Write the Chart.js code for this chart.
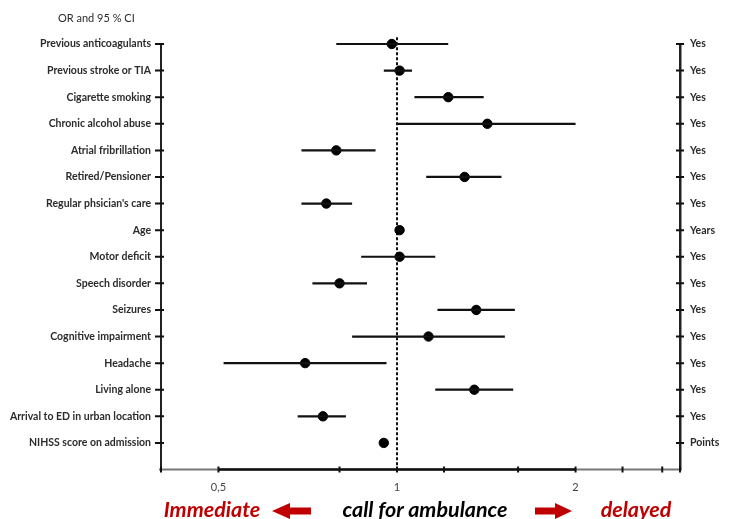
<!DOCTYPE html>
<html>
<head>
<meta charset="utf-8">
<script src="https://cdn.jsdelivr.net/npm/chart.js@4/dist/chart.umd.min.js"></script>
<style>
  body { margin: 0; background: #fff; }
  #wrap { position: relative; width: 732px; height: 519px; font-family: Lato, sans-serif; }
  #forest { position: absolute; left: 0; top: 0; }
  .title { position: absolute; left: 58px; top: 11px; font-size: 11px; color: #2b2b2b; }
  .foot { position: absolute; top: 496px; font-size: 21.5px; font-weight: bold; font-style: italic; white-space: nowrap; transform: translateX(-50%); }
  .red { color: #c00000; }
  .arrow { position: absolute; top: 503px; }
</style>
</head>
<body>
<div id="wrap">
  <canvas id="forest" width="732" height="519"></canvas>
  <div class="title">OR and 95 % CI</div>
  <div class="foot red" style="left:212px">Immediate</div>
  <svg class="arrow" style="left:272px" width="40" height="16" viewBox="0 0 40 16">
    <polygon points="0,8 18,0 18,4.5 39,4.5 39,11.5 18,11.5 18,16" fill="#c00000"/>
  </svg>
  <div class="foot" style="left:425px; color:#000">call for ambulance</div>
  <svg class="arrow" style="left:535px" width="38" height="16" viewBox="0 0 38 16">
    <polygon points="0,4.5 20,4.5 20,0 37,8 20,16 20,11.5 0,11.5" fill="#c00000"/>
  </svg>
  <div class="foot red" style="left:636px">delayed</div>
</div>
<script>
// Forest plot data (odds ratios with 95% CI)
const categories = [
    'Previous anticoagulants', 'Previous stroke or TIA', 'Cigarette smoking',
    'Chronic alcohol abuse', 'Atrial fribrillation', 'Retired/Pensioner',
    "Regular phsician's care", 'Age', 'Motor deficit', 'Speech disorder',
    'Seizures', 'Cognitive impairment', 'Headache', 'Living alone',
    'Arrival to ED in urban location', 'NIHSS score on admission'
];
const units = ['Yes', 'Yes', 'Yes', 'Yes', 'Yes', 'Yes', 'Yes', 'Years',
    'Yes', 'Yes', 'Yes', 'Yes', 'Yes', 'Yes', 'Yes', 'Points'];
const oddsRatio = [0.98, 1.01, 1.22, 1.42, 0.79, 1.30, 0.76, 1.01, 1.01, 0.80, 1.36, 1.13, 0.70, 1.35, 0.75, 0.95];
const ciLow     = [0.79, 0.95, 1.07, 1.00, 0.69, 1.12, 0.69, null, 0.87, 0.72, 1.17, 0.84, 0.51, 1.16, 0.68, null];
const ciHigh    = [1.22, 1.06, 1.40, 2.00, 0.92, 1.50, 0.84, null, 1.16, 0.89, 1.58, 1.52, 0.96, 1.57, 0.82, null];
const xTickValues = [0.4, 0.5, 0.8, 1, 1.2, 1.6, 2, 2.4, 2.8, 3];
const xLabelValues = [0.5, 1, 2];
const xLabelTexts = ['0,5', '1', '2'];

// error bar segments, separated by gaps
const ciSegments = [];
categories.forEach((c, i) => {
    if (ciLow[i] === null) return;
    ciSegments.push({ x: ciLow[i], y: i }, { x: ciHigh[i], y: i }, { x: null, y: null });
});
const points = oddsRatio.map((v, i) => ({ x: v, y: i }));

// draws reference line, tick crosses and the bottom axis
const forestDecor = {
    id: 'forestDecor',
    beforeDatasetsDraw(chart) {
        const ctx = chart.ctx;
        const x = chart.scales.x, y = chart.scales.y;
        const area = chart.chartArea;
        ctx.save();
        // dashed line at OR = 1
        ctx.strokeStyle = '#111';
        ctx.lineWidth = 2;
        ctx.setLineDash([3, 2]);
        ctx.beginPath();
        ctx.moveTo(x.getPixelForValue(1), y.getPixelForValue(-0.25));
        ctx.lineTo(x.getPixelForValue(1), area.bottom);
        ctx.stroke();
        ctx.setLineDash([]);

        // bottom axis: light outer parts, dark middle
        ctx.strokeStyle = '#777';
        ctx.lineWidth = 2;
        ctx.beginPath();
        ctx.moveTo(area.left - 2, area.bottom);
        ctx.lineTo(area.right + 2, area.bottom);
        ctx.stroke();
        ctx.strokeStyle = '#111';
        ctx.lineWidth = 2.5;
        ctx.beginPath();
        ctx.moveTo(x.getPixelForValue(0.5), area.bottom);
        ctx.lineTo(x.getPixelForValue(2), area.bottom);
        ctx.stroke();

        ctx.strokeStyle = '#111';
        ctx.lineWidth = 2;
        xTickValues.forEach(v => {
            const px = x.getPixelForValue(v);
            ctx.beginPath();
            ctx.moveTo(px, area.bottom - 3);
            ctx.lineTo(px, area.bottom + 3);
            ctx.stroke();
        });
        categories.forEach((c, i) => {
            const py = y.getPixelForValue(i);
            ctx.beginPath();
            ctx.moveTo(area.left - 6, py);
            ctx.lineTo(area.left + 3, py);
            ctx.moveTo(area.right - 4, py);
            ctx.lineTo(area.right + 4, py);
            ctx.stroke();
        });
        ctx.restore();
    }
};

const labelFont = { family: 'Lato', size: 10.5, weight: 'bold' };

new Chart(document.getElementById('forest'), {
    type: 'scatter',
    data: {
        datasets: [
            {
                type: 'line',
                data: ciSegments,
                borderColor: '#111',
                borderWidth: 2.2,
                pointRadius: 0,
                spanGaps: false,
                fill: false,
                clip: false
            },
            {
                data: points,
                backgroundColor: '#000',
                borderColor: '#000',
                pointRadius: 4.7,
                pointHoverRadius: 4.7,
                clip: false
            }
        ]
    },
    plugins: [forestDecor],
    options: {
        responsive: false,
        animation: false,
        layout: { padding: { top: 44, left: 0, right: 0, bottom: 0 } },
        plugins: {
            legend: { display: false },
            tooltip: { enabled: false }
        },
        scales: {
            x: {
                type: 'logarithmic',
                min: 0.4,
                max: 3,
                bounds: 'data',
                afterBuildTicks: (scale) => {
                    scale.ticks = xTickValues.map(v => ({ value: v }));
                },
                afterFit: (scale) => { scale.height = 49.5; },
                grid: { display: false, drawTicks: false },
                border: { display: false },
                ticks: {
                    autoSkip: false,
                    maxRotation: 0,
                    padding: 11,
                    color: '#444',
                    font: { family: 'Lato', size: 11 },
                    callback: function(value) {
                        const k = xLabelValues.indexOf(value);
                        return k >= 0 ? xLabelTexts[k] : '';
                    }
                }
            },
            y: {
                type: 'linear',
                position: 'left',
                min: 0,
                max: 16,
                reverse: true,
                afterFit: (scale) => { scale.width = 161; },
                grid: { display: false, drawTicks: false },
                border: { display: true, color: '#222', width: 2 },
                ticks: {
                    stepSize: 1,
                    autoSkip: false,
                    maxTicksLimit: 20,
                    padding: 10,
                    color: '#2b2b2b',
                    font: labelFont,
                    callback: (value) => categories[Math.round(value)] || ''
                }
            },
            y2: {
                type: 'linear',
                position: 'right',
                min: 0,
                max: 16,
                reverse: true,
                afterFit: (scale) => { scale.width = 52; },
                grid: { display: false, drawTicks: false },
                border: { display: true, color: '#222', width: 2.5 },
                ticks: {
                    stepSize: 1,
                    autoSkip: false,
                    maxTicksLimit: 20,
                    padding: 10,
                    color: '#2b2b2b',
                    font: labelFont,
                    callback: (value) => units[Math.round(value)] || ''
                }
            }
        }
    }
});
</script>
</body>
</html>
